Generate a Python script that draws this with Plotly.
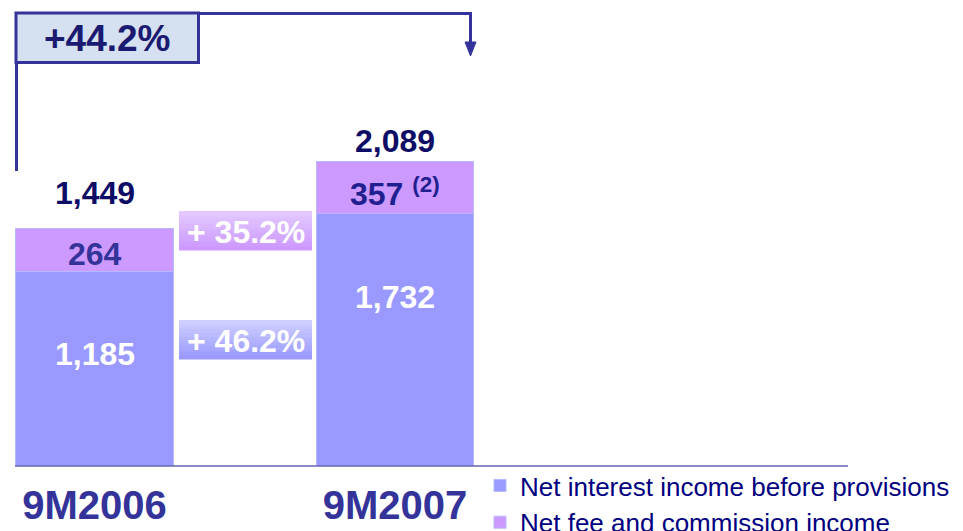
import plotly.graph_objects as go

# Data
periods = ["9M2006", "9M2007"]
net_interest = [1185, 1732]
net_fees = [264, 357]
totals = [1449, 2089]
fee_growth = "+ 35.2%"
nii_growth = "+ 46.2%"
total_growth = "+44.2%"
series_names = ["Net interest income before provisions", "Net fee and commission income"]

# Colours
NII_COL = "#9999ff"
FEE_COL = "#cc99ff"
NAVY = "#0d0d66"
BLUE = "#333399"
FONT = "Liberation Sans, Arial, sans-serif"

W, H = 963, 531
OFF = 8          # page body margin
BASE = 466       # baseline, screen pixels from top
PLOT_H = BASE - OFF


def px(x):
    # screen x -> paper
    return (x - OFF) / W


def py(y):
    # screen y -> paper
    return (BASE - y) / PLOT_H


fig = go.Figure()

# the original slide draws each period on its own (non-proportional) scale
axes = ["y", "y2"]
for i, p in enumerate(periods):
    fig.add_trace(go.Bar(
        x=[p], y=[net_interest[i]], yaxis=axes[i], name=series_names[0],
        marker=dict(color=NII_COL, line=dict(color="#b8b8ff", width=1)),
        width=0.525, legendgroup="nii", showlegend=(i == 0), hoverinfo="skip",
    ))
    fig.add_trace(go.Bar(
        x=[p], y=[net_fees[i]], yaxis=axes[i], name=series_names[1],
        marker=dict(color=FEE_COL, line=dict(color="#b8b8ff", width=1)),
        width=0.525, legendgroup="fee", showlegend=(i == 0), hoverinfo="skip",
    ))

annotations = []
total_shift = [35, 21]
fee_colours = [BLUE, "#1f1f8f"]
fee_text = ["<b>%d</b>" % net_fees[0], "<b>%d</b> <b><sup>(2)</sup></b>" % net_fees[1]]
for i, p in enumerate(periods):
    yr = axes[i]
    annotations.append(dict(x=p, y=totals[i], xref="x", yref=yr, text="<b>{:,}</b>".format(totals[i]),
                            showarrow=False, yshift=total_shift[i],
                            font=dict(size=32, color=NAVY, family=FONT)))
    annotations.append(dict(x=p, y=net_interest[i] + net_fees[i] / 2, xref="x", yref=yr,
                            text=fee_text[i], showarrow=False, yshift=-4,
                            font=dict(size=32, color=fee_colours[i], family=FONT)))
    annotations.append(dict(x=p, y=net_interest[i], xref="x", yref=yr,
                            text="<b>{:,}</b>".format(net_interest[i]), showarrow=False, yshift=-83,
                            font=dict(size=32, color="white", family=FONT)))

shapes = []


def gradient_box(x0, y0, x1, y1, c_top, c_bot, n=12):
    def hx(c):
        return [int(c[k:k + 2], 16) for k in (1, 3, 5)]
    a, b = hx(c_top), hx(c_bot)
    step = (y1 - y0) / n
    for k in range(n):
        t = k / (n - 1)
        col = "rgb(%d,%d,%d)" % tuple(round(a[j] + (b[j] - a[j]) * t) for j in range(3))
        shapes.append(dict(type="rect", xref="paper", yref="paper",
                           x0=px(x0), x1=px(x1), y0=py(y0 + k * step), y1=py(y0 + (k + 1) * step + 0.5),
                           fillcolor=col, line=dict(width=0)))


gradient_box(179, 211, 312, 250, "#e2c8ff", "#cc99ff")
gradient_box(179, 320, 312, 359, "#cfcfff", "#9999ff")
for txt, yc in [(fee_growth, 232), (nii_growth, 341)]:
    annotations.append(dict(x=px(245.5), y=py(yc), xref="paper", yref="paper", text="<b>%s</b>" % txt,
                            xanchor="center", yanchor="middle", showarrow=False,
                            font=dict(size=32, color="white", family=FONT)))

# bracket with overall growth
LINE = dict(color=BLUE, width=3)
shapes.append(dict(type="line", xref="paper", yref="paper", x0=px(16.5), x1=px(16.5), y0=py(63), y1=py(171), line=LINE))
shapes.append(dict(type="line", xref="paper", yref="paper", x0=px(199), x1=px(470.5), y0=py(13.5), y1=py(13.5), line=LINE))
shapes.append(dict(type="line", xref="paper", yref="paper", x0=px(470.5), x1=px(470.5), y0=py(12), y1=py(46), line=LINE))
shapes.append(dict(type="path", xref="paper", yref="paper",
                   path="M %f,%f L %f,%f L %f,%f Z" % (px(465), py(42), px(476), py(42), px(470.5), py(56)),
                   fillcolor=BLUE, line=dict(color=BLUE, width=1)))
shapes.append(dict(type="rect", xref="paper", yref="paper", x0=px(16), x1=px(198.5), y0=py(13), y1=py(62.5),
                   fillcolor="#d5e0f0", line=LINE))
annotations.append(dict(x=px(107), y=py(39), xref="paper", yref="paper", text="<b>%s</b>" % total_growth,
                        xanchor="center", yanchor="middle", showarrow=False,
                        font=dict(size=37, color="#1a1a70", family=FONT)))

# baseline
shapes.append(dict(type="line", xref="paper", yref="paper", x0=px(15), x1=px(848), y0=0, y1=0,
                   line=dict(color="#6666b0", width=1.5), layer="above"))

# x range: category 0 centred at screen x 94.5, 300.5 px per category
x0 = -(94.5 - OFF) / 300.5
fig.update_layout(
    barmode="stack",
    width=W, height=H,
    margin=dict(l=0, r=0, t=0, b=H - PLOT_H, pad=0, autoexpand=False),
    plot_bgcolor="white", paper_bgcolor="white",
    font=dict(family=FONT),
    xaxis=dict(type="category", categoryorder="array", categoryarray=periods,
               range=[x0, x0 + W / 300.5], showgrid=False, zeroline=False, showline=False,
               tickvals=periods, ticktext=["<b>%s</b>" % p for p in periods],
               ticklabelstandoff=12,
               tickfont=dict(size=40, color=BLUE, family=FONT)),
    yaxis=dict(range=[0, 1449 * PLOT_H / 238], visible=False),
    yaxis2=dict(range=[0, 2089 * PLOT_H / 304.3], visible=False, overlaying="y"),
    legend=dict(x=px(480), xanchor="left", y=py(462), yanchor="top", traceorder="normal",
                tracegroupgap=7,
                font=dict(size=26, color="#000080", family=FONT), bgcolor="rgba(0,0,0,0)"),
    shapes=shapes,
    annotations=annotations,
    showlegend=True,
)

fig.write_html("out.html")
